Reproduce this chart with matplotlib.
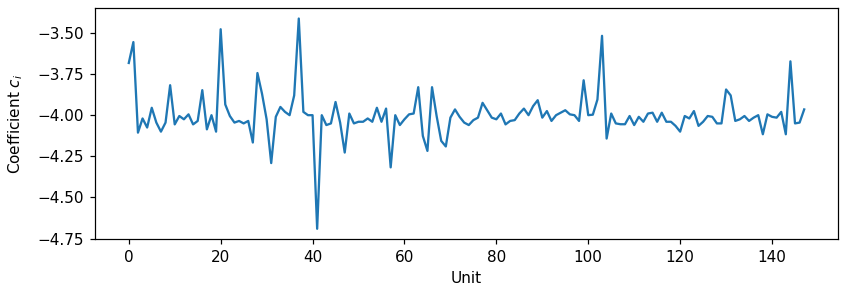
import matplotlib
matplotlib.use("Agg")
import matplotlib.pyplot as plt
from matplotlib.ticker import MultipleLocator
import numpy as np

# coefficient per unit
coef = [
    -3.683, -3.556, -4.106, -4.020, -4.075, -3.955, -4.045, -4.100, -4.045, -3.818,
    -4.056, -4.005, -4.025, -3.995, -4.056, -4.035, -3.848, -4.086, -4.000, -4.100,
    -3.478, -3.935, -4.005, -4.045, -4.035, -4.050, -4.035, -4.166, -3.744, -3.870,
    -4.025, -4.291, -4.010, -3.950, -3.980, -4.000, -3.880, -3.413, -3.980, -4.000,
    -4.000, -4.690, -4.000, -4.060, -4.050, -3.920, -4.045, -4.227, -3.990, -4.050,
    -4.040, -4.040, -4.020, -4.040, -3.955, -4.040, -3.960, -4.317, -4.000, -4.060,
    -4.025, -3.995, -3.990, -3.830, -4.126, -4.217, -3.830, -4.005, -4.156, -4.190,
    -4.015, -3.965, -4.010, -4.045, -4.060, -4.030, -4.015, -3.925, -3.970, -4.015,
    -4.025, -3.990, -4.056, -4.035, -4.030, -3.990, -3.960, -4.000, -3.945, -3.909,
    -4.015, -3.975, -4.035, -4.000, -3.985, -3.970, -3.995, -4.000, -4.035, -3.788,
    -4.000, -3.997, -3.905, -3.518, -4.142, -3.990, -4.050, -4.055, -4.055, -4.005,
    -4.060, -4.010, -4.040, -3.990, -3.985, -4.040, -3.985, -4.040, -4.040, -4.065,
    -4.100, -4.005, -4.020, -3.975, -4.065, -4.040, -4.005, -4.010, -4.050, -4.050,
    -3.844, -3.880, -4.035, -4.025, -4.005, -4.035, -4.015, -4.000, -4.116, -3.995,
    -4.010, -4.015, -3.980, -4.116, -3.673, -4.050, -4.045, -3.965,
]
units = np.arange(len(coef))

dpi = 110
fig = plt.figure(figsize=(846 / dpi, 297 / dpi), dpi=dpi)
ax = fig.add_axes([0.1123, 0.1943, 0.8782, 0.7787])
ax.plot(units, coef)
ax.yaxis.set_major_locator(MultipleLocator(0.25))
ax.set_xlabel("Unit")
ax.set_ylabel("Coefficient $c_i$", labelpad=8)

fig.savefig("out.png", dpi=dpi)
